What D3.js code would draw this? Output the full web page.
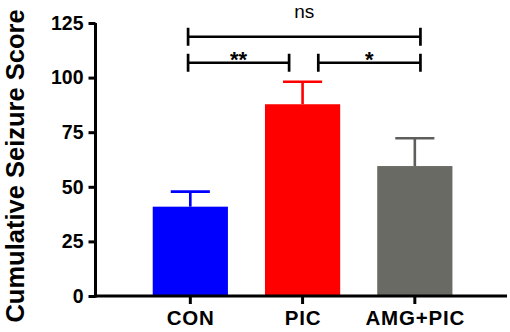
<!DOCTYPE html>
<html>
<head>
<meta charset="utf-8">
<script src="https://cdn.jsdelivr.net/npm/d3@7"></script>
<style>
  html, body { margin: 0; padding: 0; background: #fff; }
  svg { display: block; }
  text { font-family: "Liberation Sans", Arial, Helvetica, sans-serif; }
</style>
</head>
<body>
<svg id="chart" width="510" height="332"></svg>
<script>
// ---- data ----
const categories = ["CON", "PIC", "AMG+PIC"];
const means = [40.9, 87.8, 59.5];
const sems = [6.9, 10.3, 12.7];
const barColors = ["#0000ff", "#ff0000", "#6a6a65"];
const errColors = ["#0000ff", "#ff0000", "#5e5e5a"];
const yTicks = [0, 25, 50, 75, 100, 125];
const yTitle = "Cumulative Seizure Score";
// significance brackets: positions in category-index units, height in score units
const bracketFrom = [-0.02, -0.02, 1.14];
const bracketTo = [2.05, 0.88, 2.05];
const bracketLevel = [118.7, 106.8, 106.8];
const bracketLabels = ["ns", "**", "*"];

// ---- layout ----
const svg = d3.select("#chart");
const axisLeftX = 95.5, axisRightX = 507;
const y = d3.scaleLinear().domain([0, 125]).range([296, 23]);
const x = d3.scaleBand().domain(categories).range([134.2, 470.95])
  .paddingInner(0.33).paddingOuter(0.165);
const step = x.step();
const idx = d3.scaleLinear().domain([0, 1]).range([x("CON") + x.bandwidth() / 2, x("CON") + x.bandwidth() / 2 + step]);

// bars
svg.append("g").selectAll("rect").data(categories).join("rect")
  .attr("x", d => x(d))
  .attr("y", (d, i) => y(means[i]))
  .attr("width", x.bandwidth())
  .attr("height", (d, i) => y(0) - y(means[i]))
  .attr("fill", (d, i) => barColors[i]);

// error bars (upper only)
const eb = svg.append("g");
categories.forEach((c, i) => {
  const cx = x(c) + x.bandwidth() / 2;
  const capW = x.bandwidth() * 0.52;
  eb.append("line").attr("x1", cx).attr("x2", cx)
    .attr("y1", y(means[i])).attr("y2", y(means[i] + sems[i]))
    .attr("stroke", errColors[i]).attr("stroke-width", 2.6);
  eb.append("line").attr("x1", cx - capW / 2).attr("x2", cx + capW / 2)
    .attr("y1", y(means[i] + sems[i])).attr("y2", y(means[i] + sems[i]))
    .attr("stroke", errColors[i]).attr("stroke-width", 2.6);
});

// y axis
const yAxis = d3.axisLeft(y).tickValues(yTicks).tickSize(7).tickPadding(5).tickSizeOuter(0);
const gy = svg.append("g").attr("transform", `translate(${axisLeftX},0)`).call(yAxis);
gy.select(".domain").remove();
gy.selectAll(".tick line").attr("stroke", "#000").attr("stroke-width", 3);
gy.selectAll(".tick text").attr("font-size", 19.5).attr("font-weight", "bold").attr("fill", "#000")
  .attr("font-family", "'Liberation Sans', Arial, sans-serif");

// x axis
const xAxis = d3.axisBottom(x).tickSize(8).tickPadding(6).tickSizeOuter(0);
const gx = svg.append("g").attr("transform", `translate(0,${y(0)})`).call(xAxis);
gx.select(".domain").remove();
gx.selectAll(".tick line").attr("stroke", "#000").attr("stroke-width", 3);
gx.selectAll(".tick text").attr("font-size", 20.5).attr("font-weight", "bold").attr("fill", "#000")
  .attr("letter-spacing", 0.8).attr("dx", 0.4)
  .attr("font-family", "'Liberation Sans', Arial, sans-serif");

// axis lines
svg.append("line").attr("x1", axisLeftX).attr("x2", axisLeftX)
  .attr("y1", y(125)).attr("y2", y(0) + 1.5).attr("stroke", "#000").attr("stroke-width", 3);
svg.append("line").attr("x1", axisLeftX - 1.5).attr("x2", axisRightX)
  .attr("y1", y(0)).attr("y2", y(0)).attr("stroke", "#000").attr("stroke-width", 3);

// y title
svg.append("text")
  .attr("transform", `translate(23.5,166) rotate(-90)`)
  .attr("text-anchor", "middle")
  .attr("font-size", 25.5).attr("font-weight", "bold").attr("fill", "#000")
  .text(yTitle);

// significance brackets
const bg = svg.append("g");
const tickHalf = 9;
bracketLabels.forEach((lab, i) => {
  const x1 = idx(bracketFrom[i]), x2 = idx(bracketTo[i]), yy = y(bracketLevel[i]);
  bg.append("line").attr("x1", x1).attr("x2", x2).attr("y1", yy).attr("y2", yy)
    .attr("stroke", "#000").attr("stroke-width", 2.7);
  [x1, x2].forEach(xx => bg.append("line").attr("x1", xx).attr("x2", xx)
    .attr("y1", yy - tickHalf).attr("y2", yy + tickHalf)
    .attr("stroke", "#000").attr("stroke-width", 2.7));
  const isNs = lab === "ns";
  bg.append("text")
    .attr("x", (x1 + x2) / 2)
    .attr("y", isNs ? yy - 19.2 : yy + 4)
    .attr("text-anchor", "middle")
    .attr("font-size", isNs ? 19 : 22)
    .attr("font-weight", isNs ? "normal" : "bold")
    .attr("fill", "#000")
    .text(lab);
});
</script>
</body>
</html>
